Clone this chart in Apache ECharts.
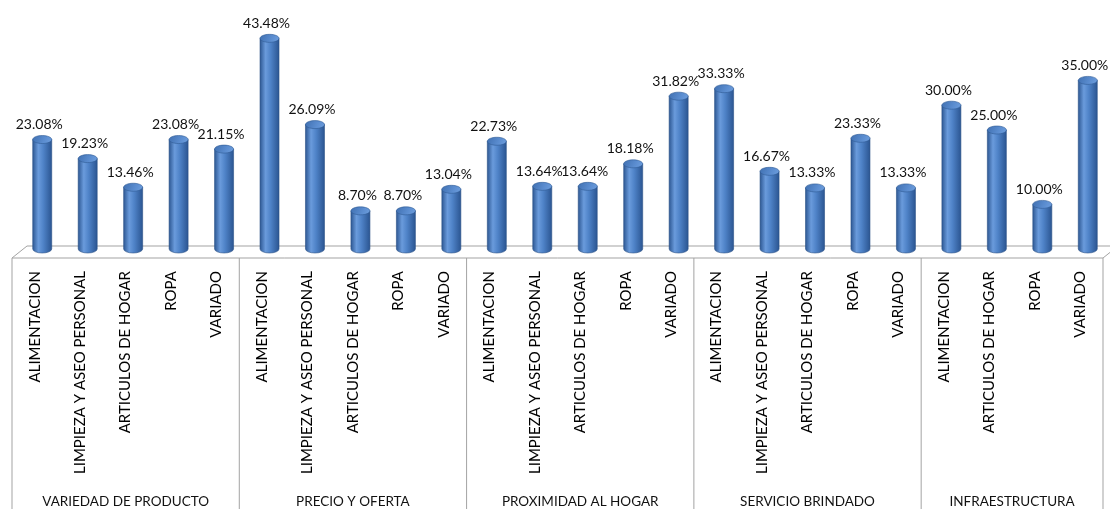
<!DOCTYPE html>
<html>
<head>
<meta charset="utf-8">
<script src="https://cdn.jsdelivr.net/npm/echarts@6/dist/echarts.min.js"></script>
<style>
  html, body { margin: 0; padding: 0; background: #ffffff; }
  #chart { width: 1110px; height: 509px; }
</style>
</head>
<body>
<div id="chart"></div>
<script>
// Factor groups and how many categories each one holds
const groups = ['VARIEDAD DE PRODUCTO', 'PRECIO Y OFERTA', 'PROXIMIDAD AL HOGAR', 'SERVICIO BRINDADO', 'INFRAESTRUCTURA'];
const groupSizes = [5, 5, 5, 5, 4];

// Store types, one per bar, in group order
const categories = [
  'ALIMENTACION', 'LIMPIEZA Y ASEO PERSONAL', 'ARTICULOS DE HOGAR', 'ROPA', 'VARIADO',
  'ALIMENTACION', 'LIMPIEZA Y ASEO PERSONAL', 'ARTICULOS DE HOGAR', 'ROPA', 'VARIADO',
  'ALIMENTACION', 'LIMPIEZA Y ASEO PERSONAL', 'ARTICULOS DE HOGAR', 'ROPA', 'VARIADO',
  'ALIMENTACION', 'LIMPIEZA Y ASEO PERSONAL', 'ARTICULOS DE HOGAR', 'ROPA', 'VARIADO',
  'ALIMENTACION', 'ARTICULOS DE HOGAR', 'ROPA', 'VARIADO'
];

// Share of respondents (%) for each store type
const percentages = [
  23.08, 19.23, 13.46, 23.08, 21.15,
  43.48, 26.09, 8.70, 8.70, 13.04,
  22.73, 13.64, 13.64, 18.18, 31.82,
  33.33, 16.67, 13.33, 23.33, 13.33,
  30.00, 25.00, 10.00, 35.00
];

// Pseudo-3D depth of the floor
const DEPTH_X = 15;
const DEPTH_Y = 12;
const FRONT_Y = 4;      // floor front edge below the zero line
const BAR_SHIFT = 7.5;  // cylinders stand in the middle of the floor depth
const BAR_W = 19;
const ELL_RY = 4;
const LINE_GRAY = '#a3a3a3';
const FONT = 'Lato, "Open Sans", sans-serif';

const barData = percentages.map((v, i) => [i, v]);

// [firstIndex, lastIndex, groupIndex]
const groupData = [];
let start = 0;
groupSizes.forEach((n, g) => { groupData.push([start, start + n - 1, g]); start += n; });

const bodyFill = new echarts.graphic.LinearGradient(0, 0, 1, 0, [
  { offset: 0, color: '#2b5590' },
  { offset: 0.3, color: '#6a9bdc' },
  { offset: 0.55, color: '#4f83c8' },
  { offset: 1, color: '#2a5490' }
]);
const topFill = new echarts.graphic.LinearGradient(0, 0, 1, 1, [
  { offset: 0, color: '#3f6fb0' },
  { offset: 0.6, color: '#5b8dd0' },
  { offset: 1, color: '#6f9fde' }
]);

function renderCylinder(params, api) {
  const idx = api.value(0);
  const v = api.value(1);
  const top = api.coord([idx, v]);
  const base = api.coord([idx, 0]);
  const cx = top[0] + BAR_SHIFT;
  const rx = BAR_W / 2;
  const yTop = top[1];
  const yBot = base[1] - 5;
  const path = 'M' + (cx - rx) + ' ' + yTop +
    ' L' + (cx - rx) + ' ' + yBot +
    ' A' + rx + ' ' + ELL_RY + ' 0 0 0 ' + (cx + rx) + ' ' + yBot +
    ' L' + (cx + rx) + ' ' + yTop + ' Z';
  return {
    type: 'group',
    children: [
      { type: 'path', shape: { pathData: path }, style: { fill: bodyFill, stroke: '#2a5087', lineWidth: 0.6 } },
      { type: 'ellipse', shape: { cx: cx, cy: yTop, rx: rx, ry: ELL_RY }, style: { fill: topFill, stroke: '#2f5a94', lineWidth: 0.6 } },
      {
        type: 'text',
        style: {
          x: cx - 3, y: yTop - ELL_RY - 4,
          text: v.toFixed(2) + '%',
          align: 'center', verticalAlign: 'bottom',
          font: '14px ' + FONT, fill: '#111111'
        }
      }
    ]
  };
}

function renderFloor(params, api) {
  const cs = params.coordSys;
  const y0 = cs.y + cs.height;
  const xl = cs.x, xr = cs.x + cs.width;
  const fy = y0 + FRONT_Y, by = fy - DEPTH_Y;
  return {
    type: 'polygon',
    shape: { points: [[xl, fy], [xl + DEPTH_X, by], [xr + DEPTH_X, by], [xr, fy]] },
    style: { fill: '#ffffff', stroke: LINE_GRAY, lineWidth: 1 },
    silent: true
  };
}

function renderGroup(params, api) {
  const cs = params.coordSys;
  const s = api.value(0), e = api.value(1), g = api.value(2);
  const band = api.size([1, 0])[0];
  const x0 = api.coord([s, 0])[0] - band / 2;
  const x1 = api.coord([e, 0])[0] + band / 2;
  const fy = cs.y + cs.height + FRONT_Y;
  const children = [
    { type: 'line', shape: { x1: x0, y1: fy, x2: x0, y2: 520 }, style: { stroke: LINE_GRAY, lineWidth: 1 } },
    {
      type: 'text',
      style: {
        x: (x0 + x1) / 2, y: 502, text: groups[g],
        align: 'center', verticalAlign: 'middle',
        font: '13.5px ' + FONT, fill: '#111111'
      }
    }
  ];
  if (g === groups.length - 1) {
    children.push({ type: 'line', shape: { x1: x1, y1: fy, x2: x1, y2: 520 }, style: { stroke: LINE_GRAY, lineWidth: 1 } });
  }
  return { type: 'group', children: children };
}

const chart = echarts.init(document.getElementById('chart'), null, { renderer: 'canvas' });
chart.setOption({
  animation: false,
  backgroundColor: '#ffffff',
  grid: { left: 12, right: 7, top: 6, bottom: 255, containLabel: false },
  xAxis: {
    type: 'category',
    data: categories,
    boundaryGap: true,
    axisLine: { show: false },
    axisTick: { show: false },
    axisLabel: {
      interval: 0, rotate: 90, margin: 17,
      fontFamily: 'Lato', fontSize: 15, color: '#000000'
    }
  },
  yAxis: {
    type: 'value', min: 0, max: 50,
    show: false,
    splitLine: { show: false }
  },
  series: [
    { type: 'custom', name: 'floor', data: [[0, 0]], renderItem: renderFloor, z: 1, silent: true, clip: false },
    { type: 'custom', name: 'grupos', data: groupData, renderItem: renderGroup, z: 1, silent: true, clip: false,
      encode: { x: 0, y: -1 } },
    { type: 'custom', name: 'porcentaje', data: barData, renderItem: renderCylinder, z: 3, clip: false,
      encode: { x: 0, y: 1 } }
  ]
});
</script>
</body>
</html>
